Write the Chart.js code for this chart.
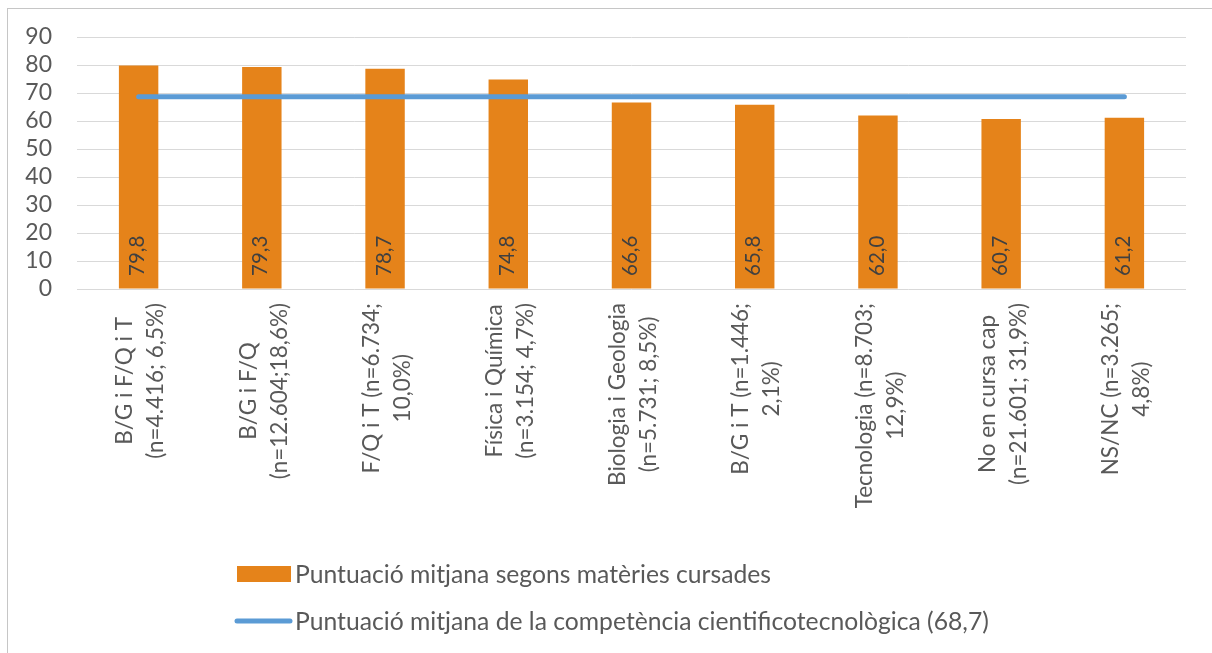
<!DOCTYPE html>
<html>
<head>
<meta charset="utf-8">
<script src="https://cdn.jsdelivr.net/npm/chart.js@4.4.1/dist/chart.umd.min.js"></script>
<style>
  html, body { margin: 0; padding: 0; background: #ffffff; }
  #wrap { position: relative; width: 1212px; height: 653px; overflow: hidden; }
  #frame { position: absolute; left: 7px; top: 8px; width: 1400px; height: 800px;
           border-left: 1px solid #C6C6C6; border-top: 1px solid #C6C6C6; }
  canvas { position: absolute; left: 0; top: 0; }
</style>
</head>
<body>
<div id="wrap">
  <div id="frame"></div>
  <canvas id="c" width="1212" height="653"></canvas>
</div>
<script>
// ---- data ----
const categories = [
  ["B/G i F/Q i T", "(n=4.416; 6,5%)"],
  ["B/G i F/Q", "(n=12.604;18,6%)"],
  ["F/Q i T (n=6.734;", "10,0%)"],
  ["Física i Química", "(n=3.154; 4,7%)"],
  ["Biologia i Geologia", "(n=5.731; 8,5%)"],
  ["B/G i T (n=1.446;", "2,1%)"],
  ["Tecnologia (n=8.703;", "12,9%)"],
  ["No en cursa cap", "(n=21.601; 31,9%)"],
  ["NS/NC (n=3.265;", "4,8%)"]
];
const barValues = [79.8, 79.3, 78.7, 74.8, 66.6, 65.8, 62.0, 60.7, 61.2];
const meanValues = [68.7, 68.7, 68.7, 68.7, 68.7, 68.7, 68.7, 68.7, 68.7];
const barLabel = "Puntuació mitjana segons matèries cursades";
const lineLabel = "Puntuació mitjana de la competència cientificotecnològica (68,7)";
const yTicks = [0, 10, 20, 30, 40, 50, 60, 70, 80, 90];

// ---- style ----
const FONT = "Lato, 'Open Sans', sans-serif";
const TEXT = "#595959";
const ORANGE = "#E5831A";
const BLUE = "#5B9BD5";

const fmt = v => v.toFixed(1).replace('.', ',');

const customDraw = {
  id: 'customDraw',
  afterDatasetsDraw(chart) {
    const ctx = chart.ctx;
    const xs = chart.scales.x;
    const ys = chart.scales.y;
    const barIdx = chart.data.datasets.findIndex(d => d.type === 'bar');
    const lineIdx = chart.data.datasets.findIndex(d => d.type === 'line');
    const barDs = chart.data.datasets[barIdx];
    const lineDs = chart.data.datasets[lineIdx];
    // data labels inside base of bars
    const meta = chart.getDatasetMeta(barIdx);
    ctx.save();
    ctx.font = "20.5px " + FONT;
    ctx.fillStyle = "#404040";
    ctx.textAlign = "left";
    ctx.textBaseline = "middle";
    meta.data.forEach((bar, i) => {
      ctx.save();
      ctx.translate(bar.x - 1, ys.getPixelForValue(0) - 13);
      ctx.rotate(-Math.PI / 2);
      ctx.fillText(fmt(barDs.data[i]), 0, 0);
      ctx.restore();
    });
    ctx.restore();

    // category labels, rotated, centered lines
    ctx.save();
    ctx.font = "22.5px " + FONT;
    ctx.fillStyle = TEXT;
    ctx.textAlign = "center";
    ctx.textBaseline = "middle";
    const top = ys.getPixelForValue(0) + 14;
    const pitch = 31;
    categories.forEach((lines, i) => {
      const x = xs.getPixelForValue(i) + 2;
      const w = Math.max(...lines.map(l => ctx.measureText(l).width));
      ctx.save();
      ctx.translate(x, top + w / 2);
      ctx.rotate(-Math.PI / 2);
      lines.forEach((l, j) => {
        ctx.fillText(l, 0, (j - (lines.length - 1) / 2) * pitch);
      });
      ctx.restore();
    });
    ctx.restore();

    // legend
    ctx.save();
    ctx.font = "24.7px " + FONT;
    ctx.textAlign = "left";
    ctx.textBaseline = "middle";
    const lx = 237, row1 = 574, row2 = 621;
    ctx.fillStyle = barDs.backgroundColor;
    ctx.fillRect(lx, row1 - 8, 54, 16);
    ctx.strokeStyle = lineDs.borderColor;
    ctx.lineWidth = 5;
    ctx.lineCap = "round";
    ctx.beginPath();
    ctx.moveTo(lx, row2);
    ctx.lineTo(lx + 53, row2);
    ctx.stroke();
    ctx.fillStyle = TEXT;
    ctx.fillText(barDs.label, lx + 58, row1 + 1);
    ctx.fillText(lineDs.label, lx + 58, row2 + 1);
    ctx.restore();
  }
};

new Chart(document.getElementById('c'), {
  data: {
    labels: categories.map(c => c.join(' ')),
    datasets: [
      {
        type: 'line',
        label: lineLabel,
        data: meanValues,
        borderColor: BLUE,
        backgroundColor: BLUE,
        borderWidth: 5,
        borderCapStyle: 'round',
        pointRadius: 0,
        pointHoverRadius: 0,
        order: 0
      },
      {
        type: 'bar',
        label: barLabel,
        data: barValues,
        backgroundColor: ORANGE,
        barPercentage: 0.32,
        categoryPercentage: 1.0,
        order: 1
      }
    ]
  },
  options: {
    responsive: false,
    animation: false,
    devicePixelRatio: 1,
    layout: { padding: { left: 0, top: 37, right: 26, bottom: 0 } },
    plugins: { legend: { display: false }, tooltip: { enabled: false } },
    scales: {
      x: {
        offset: true,
        grid: { display: false, drawTicks: false },
        border: { display: false },
        ticks: { display: false },
        afterFit(scale) { scale.height = 653 - 289; }
      },
      y: {
        min: 0, max: 90,
        afterBuildTicks(scale) { scale.ticks = yTicks.map(v => ({ value: v })); },
        grid: { color: "#D9D9D9", lineWidth: 1, drawTicks: false },
        border: { display: false },
        ticks: { color: TEXT, font: { family: FONT, size: 23, lineHeight: 1 }, padding: 25, autoSkip: false },
        afterFit(scale) { scale.width = 77; }
      }
    }
  },
  plugins: [customDraw]
});
</script>
</body>
</html>
